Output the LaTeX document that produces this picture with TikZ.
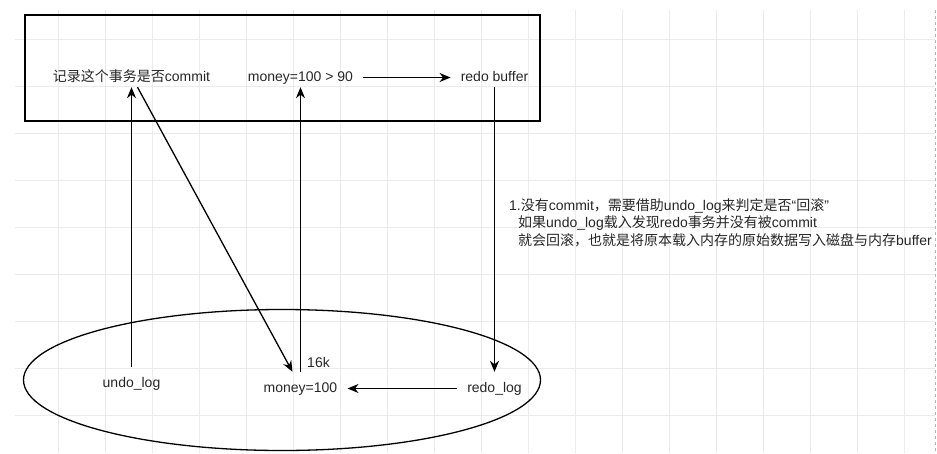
\documentclass[tikz,border=0pt]{standalone}
\usepackage{fontspec}
\setmainfont{Liberation Sans}
\newfontfamily\cjk{Noto Sans CJK SC}
\newcommand{\zh}[1]{{\cjk #1}}
\usetikzlibrary{arrows.meta,shapes.geometric}

\begin{document}
\begin{tikzpicture}[x=1pt,y=-1pt,font=\fontsize{14}{17.5}\selectfont,
        txt/.style={inner xsep=10pt,inner ysep=3pt,text height=10pt,text depth=3pt,text=black!85},
        memtxt/.style={txt,inner ysep=10pt},
        notetxt/.style={anchor=west,align=left,inner sep=0pt,text=black!85},
        arr/.style={-{Stealth[length=11pt,width=9pt,inset=3.5pt]},line width=1.3pt},
        gridline/.style={black!8,line width=0.8pt}]
        \useasboundingbox (0,0) rectangle (937,453);
        \foreach \gx in {58,105,...,904} \draw[gridline] (\gx,10) -- (\gx,453);
        \foreach \gy in {39,86,...,415} \draw[gridline] (15,\gy) -- (935,\gy);
        \draw[black!30,dashed] (935,10) -- (935,453);
        \node[draw,line width=1.4pt,minimum width=515pt,minimum height=106pt] (pool) at (282.5,68) {};
        \node[draw,ellipse,line width=1.3pt,minimum width=517pt,minimum height=141pt,inner sep=0pt] (mem) at (282,380) {};
        \node[txt] (rec) at (131.5,77.5) {\zh{记录这个事务是否}commit};
        \node[txt] (cond) at (300.5,77.5) {money=100 > 90};
        \node[txt] (rbuf) at (494.5,77.5) {redo buffer};
        \node[memtxt] (undo) at (131.5,383.5) {undo\_log};
        \node[memtxt] (money) at (300.5,388.5) {money=100};
        \node[memtxt] (rlog) at (494.5,388.5) {redo\_log};
        \node[txt,inner sep=0pt] (size) at (318.5,364) {16k};
        \node[notetxt] (note) at (509,222.5) {1.\zh{没有}commit\zh{，需要借助}undo\_log\zh{来判定是否}“\zh{回滚}”\\
            \hspace*{9pt}\zh{如果}undo\_log\zh{载入发现}redo\zh{事务并没有被}commit\\
            \hspace*{9pt}\zh{就会回滚，也就是将原本载入内存的原始数据写入磁盘与内存}buffer};
        \draw[arr] (undo.north) -- (undo.north |- rec.south);
        \draw[arr] ([xshift=6pt]rec.south) -- ([xshift=-8pt]money.north);
        \draw[arr] (money.north) -- (money.north |- cond.south);
        \draw[arr] (cond.east) -- (rbuf.west);
        \draw[arr] (rbuf.south) -- (rbuf.south |- rlog.north);
        \draw[arr] (rlog.west) -- (money.east);
    \end{tikzpicture}
\end{document}
